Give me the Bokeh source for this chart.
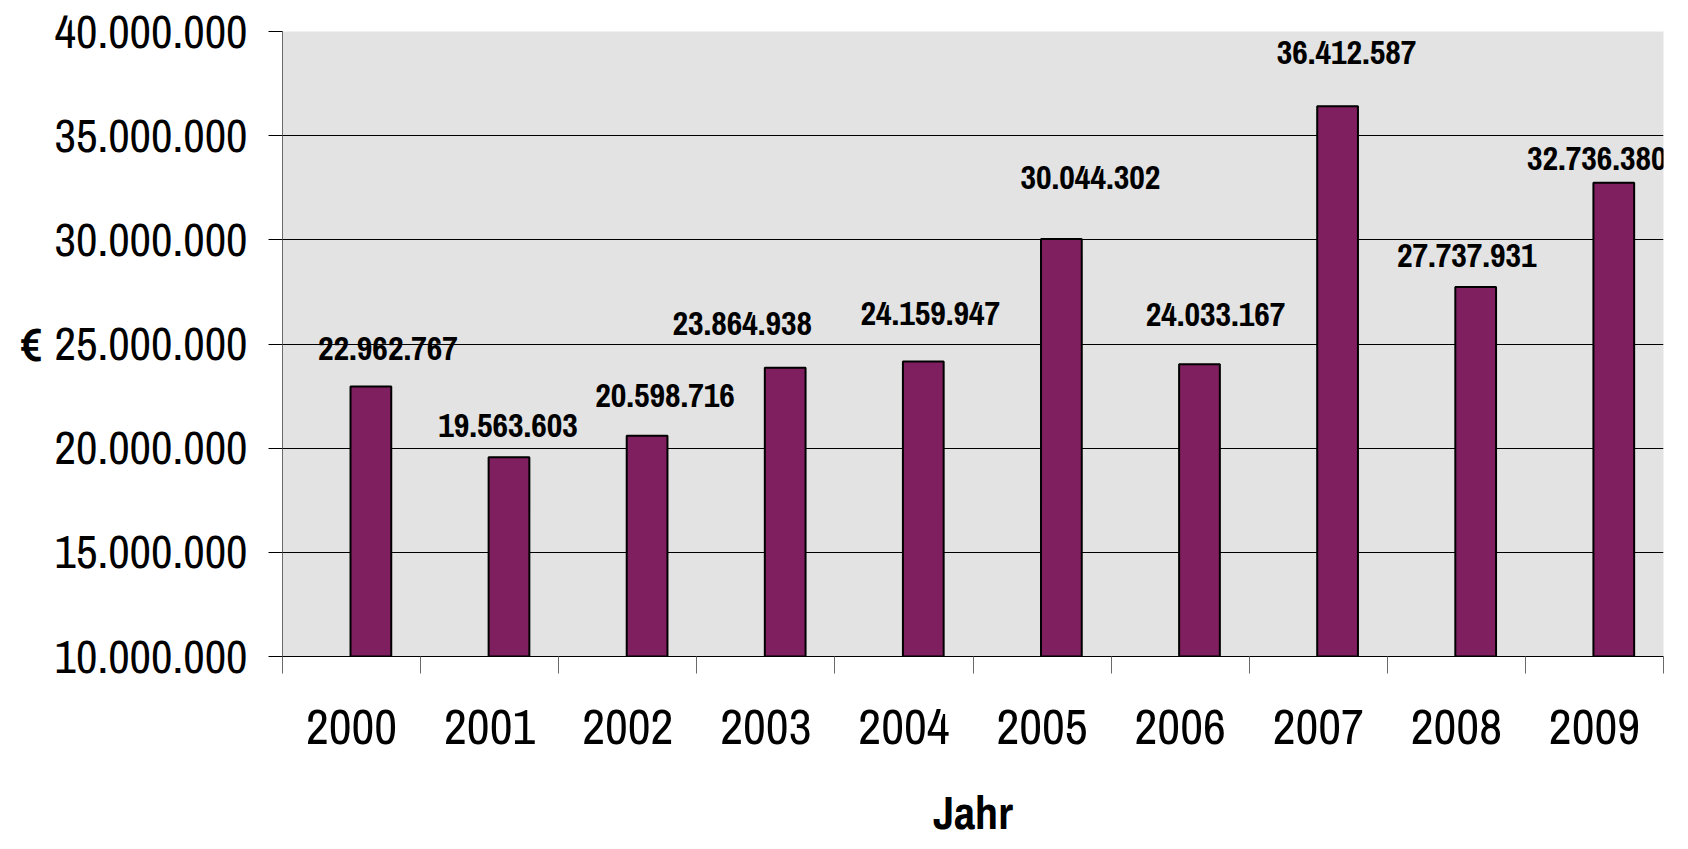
from bokeh.plotting import figure
from bokeh.models import ColumnDataSource, Range1d, FixedTicker, LabelSet
from bokeh.core.properties import value
from bokeh.embed import file_html
from bokeh.resources import INLINE

# ---- data ----
years = ["2000", "2001", "2002", "2003", "2004", "2005", "2006", "2007", "2008", "2009"]
values = [22962767, 19563603, 20598716, 23864938, 24159947, 30044302, 24033167, 36412587, 27737931, 32736380]
y_ticks = [10000000, 15000000, 20000000, 25000000, 30000000, 35000000, 40000000]
y_tick_labels = ["10.000.000", "15.000.000", "20.000.000", "25.000.000", "30.000.000", "35.000.000", "40.000.000"]

# label placement tweaks (pixels, relative to bar top centre)
label_dx_px = [17, -1, 18, -43, 7, 29, 16, 9, -9, -17]
label_dy_px = [38, 32, 40, 44, 48, 61, 50, 54, 31, 24]

FONT = "Archivo Narrow"

n = len(years)
bar_pos = 0.64
src = ColumnDataSource(dict(
    x=[i + bar_pos for i in range(n)],
    top=values,
    label=[f"{v:,}".replace(",", ".") for v in values],
    dx=label_dx_px,
    dy=label_dy_px,
))

p = figure(width=1688, height=849, output_backend="svg", toolbar_location=None,
           x_range=Range1d(0, n), y_range=Range1d(y_ticks[0], y_ticks[-1]))
p.min_border_left = 282
p.min_border_right = 25
p.min_border_top = 31
p.min_border_bottom = 193
p.background_fill_color = "#E3E3E3"
p.border_fill_color = "white"
p.outline_line_color = None

p.vbar(x="x", top="top", bottom=y_ticks[0], width=0.295, source=src,
       fill_color="#7F1F5F", line_color="black", line_width=2)

labels = LabelSet(x="x", y="top", text="label", x_offset="dx", y_offset="dy", source=src,
                  text_align="center", text_baseline="middle",
                  text_font=value(FONT), text_font_size=value("34px"),
                  text_font_style=value("bold"), text_color=value("black"))
p.add_layout(labels)

# y axis
p.yaxis.ticker = FixedTicker(ticks=y_ticks, minor_ticks=[])
p.yaxis.major_label_overrides = {t: l for t, l in zip(y_ticks, y_tick_labels)}
p.yaxis.major_label_text_font = FONT
p.yaxis.major_label_text_font_size = "47px"
p.yaxis.major_label_text_color = "black"
p.yaxis.major_label_standoff = 21
p.yaxis.major_tick_out = 14
p.yaxis.major_tick_in = 0
p.yaxis.major_tick_line_color = "black"
p.yaxis.axis_line_color = "#6a6a6a"
p.yaxis.axis_label = "€"
p.yaxis.axis_label_orientation = "horizontal"
p.yaxis.axis_label_text_font = FONT
p.yaxis.axis_label_text_font_size = "46px"
p.yaxis.axis_label_text_font_style = "bold"
p.yaxis.axis_label_text_color = "black"
p.yaxis.axis_label_standoff = 10

# x axis: labels at category centres, ticks at category boundaries
p.xaxis.ticker = FixedTicker(ticks=[i + 0.5 for i in range(n)], minor_ticks=list(range(n + 1)))
p.xaxis.major_label_overrides = {i + 0.5: y for i, y in enumerate(years)}
p.xaxis.major_label_text_font = FONT
p.xaxis.major_label_text_font_size = "50px"
p.xaxis.major_label_text_color = "black"
p.xaxis.major_label_standoff = 36
p.xaxis.major_tick_line_color = None
p.xaxis.minor_tick_out = 17
p.xaxis.minor_tick_in = 0
p.xaxis.minor_tick_line_color = "#6a6a6a"
p.xaxis.axis_line_color = "black"
p.xaxis.axis_label = "Jahr"
p.xaxis.axis_label_text_font = FONT
p.xaxis.axis_label_text_font_size = "46px"
p.xaxis.axis_label_text_font_style = "bold"
p.xaxis.axis_label_text_color = "black"
p.xaxis.axis_label_standoff = 34

# grid
p.xgrid.grid_line_color = None
p.ygrid.ticker = FixedTicker(ticks=y_ticks[1:-1])
p.ygrid.grid_line_color = "black"
p.ygrid.grid_line_width = 1

open("out.html", "w").write(file_html(p, INLINE))
